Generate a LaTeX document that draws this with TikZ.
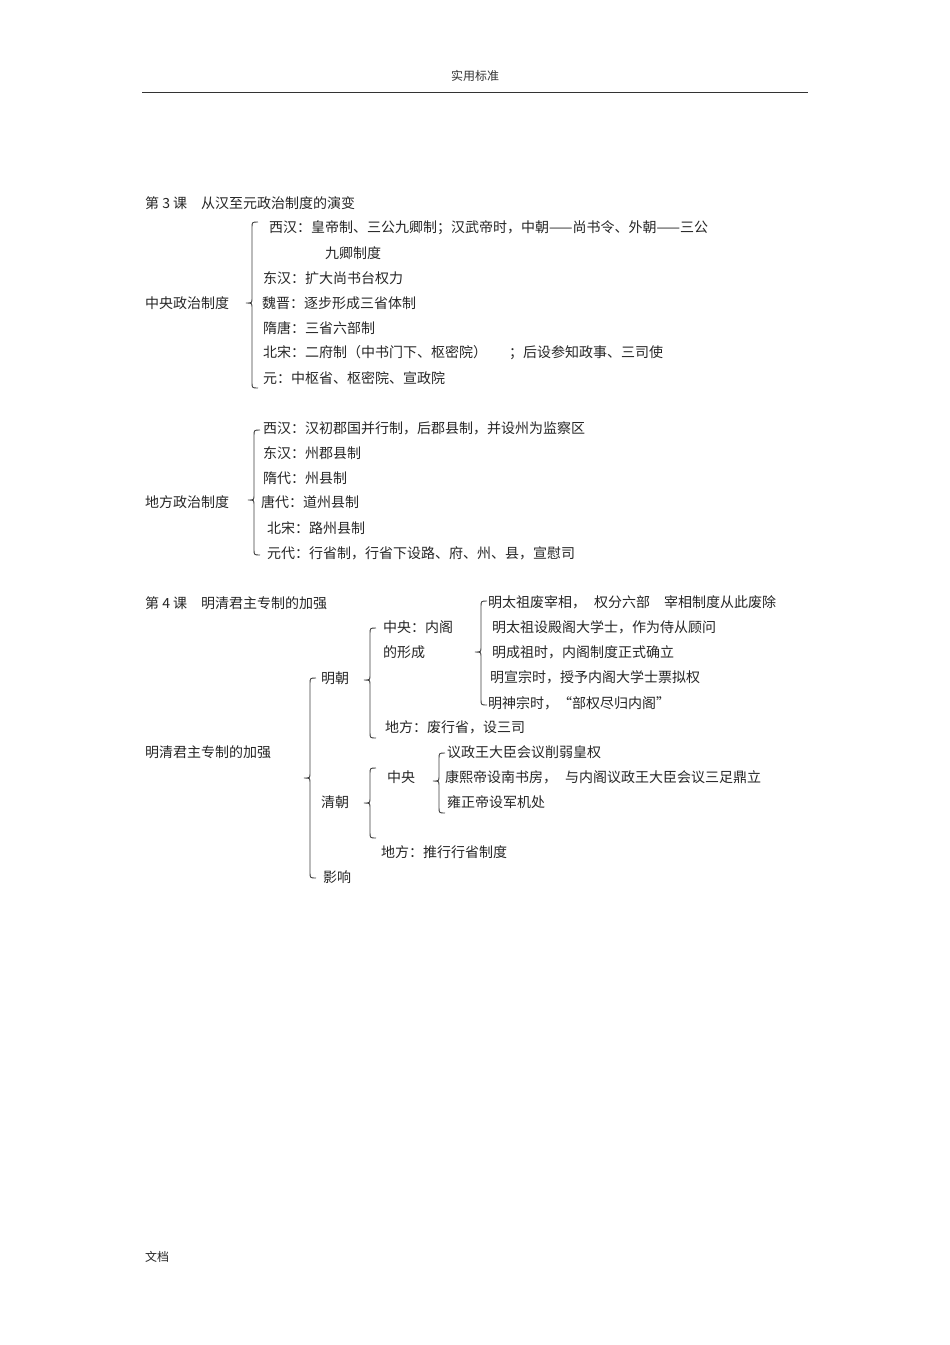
\documentclass[tikz,border=0pt]{standalone}
\usepackage{fontspec}
\setmainfont{Noto Sans CJK SC}
\begin{document}
\begin{tikzpicture}[x=1pt,y=-1pt,
  t/.style={anchor=west,inner sep=0pt,font=\fontsize{14}{14}\selectfont,text=black!85},
  br/.style={draw=black!75,line width=0.9pt}]
\useasboundingbox (0,0) rectangle (950,1345);
\fill[white] (0,0) rectangle (950,1345);
\newcommand\mybrace[4]{% x, top, bottom, mid
 \draw[br] (#1+6,#2) .. controls (#1,#2) .. (#1,#2+6) -- (#1,#4-5) .. controls (#1,#4) .. (#1-6,#4) .. controls (#1,#4) .. (#1,#4+5) -- (#1,#3-6) .. controls (#1,#3) .. (#1+6,#3);}
\node[anchor=center,inner sep=0pt,font=\fontsize{12}{12}\selectfont,text=black!80] (hd) at (475,76) {实用标准};
\coordinate (l1) at (142,92); \coordinate (l2) at (808,92);
\draw[black!80,line width=0.8pt] (l1) -- (l2);
\node[t] (h3) at (145,203) {第 3 课\quad 从汉至元政治制度的演变};
\node[t] (zy) at (145,303) {中央政治制度};
\node[t] (a1) at (269,228) {西汉：皇帝制、三公九卿制；汉武帝时，中朝——尚书令、外朝——三公};
\node[t] (a1b) at (325,253) {九卿制度};
\node[t] (a2) at (263,278) {东汉：扩大尚书台权力};
\node[t] (a3) at (262,303) {魏晋：逐步形成三省体制};
\node[t] (a4) at (263,328) {隋唐：三省六部制};
\node[t] (a5) at (263,353) {北宋：二府制（中书门下、枢密院）\hspace{22pt}；后设参知政事、三司使};
\node[t] (a6) at (263,378) {元：中枢省、枢密院、宣政院};
\mybrace{252}{222}{388}{303}
\node[t] (df) at (145,502) {地方政治制度};
\node[t] (b1) at (263,428) {西汉：汉初郡国并行制，后郡县制，并设州为监察区};
\node[t] (b2) at (263,453) {东汉：州郡县制};
\node[t] (b3) at (263,478) {隋代：州县制};
\node[t] (b4) at (261,502) {唐代：道州县制};
\node[t] (b5) at (267,528) {北宋：路州县制};
\node[t] (b6) at (267,553) {元代：行省制，行省下设路、府、州、县，宣慰司};
\mybrace{254}{430}{555}{500}
\node[t] (h4) at (145,603) {第 4 课\quad 明清君主专制的加强};
\node[t] (mq) at (145,752) {明清君主专制的加强};
\mybrace{310}{678}{878}{778}
\node[t] (mc) at (321,678) {明朝};
\node[t] (qc) at (321,802) {清朝};
\node[t] (yx) at (323,877) {影响};
\mybrace{370}{628}{738}{680}
\node[t] (zy1) at (383,627) {中央：内阁};
\node[t] (zy2) at (383,652) {的形成};
\node[t] (df1) at (385,727) {地方：废行省，设三司};
\mybrace{481}{601}{705}{652}
\node[t] (c1) at (488,602) {明太祖废宰相，\hspace{8pt}权分六部\hspace{14pt}宰相制度从此废除};
\node[t] (c2) at (492,627) {明太祖设殿阁大学士，作为侍从顾问};
\node[t] (c3) at (492,652) {明成祖时，内阁制度正式确立};
\node[t] (c4) at (490,677) {明宣宗时，授予内阁大学士票拟权};
\node[t] (c5) at (488,703) {明神宗时，“部权尽归内阁”};
\mybrace{370}{768}{838}{803}
\node[t] (zy3) at (387,777) {中央};
\mybrace{439}{753}{813}{781}
\node[t] (d1) at (447,752) {议政王大臣会议削弱皇权};
\node[t] (d2) at (445,777) {康熙帝设南书房，\hspace{8pt}与内阁议政王大臣会议三足鼎立};
\node[t] (d3) at (447,802) {雍正帝设军机处};
\node[t] (df2) at (381,852) {地方：推行行省制度};
\node[t,font=\fontsize{12}{12}\selectfont] (wd) at (145,1257) {文档};
\end{tikzpicture}
\end{document}
